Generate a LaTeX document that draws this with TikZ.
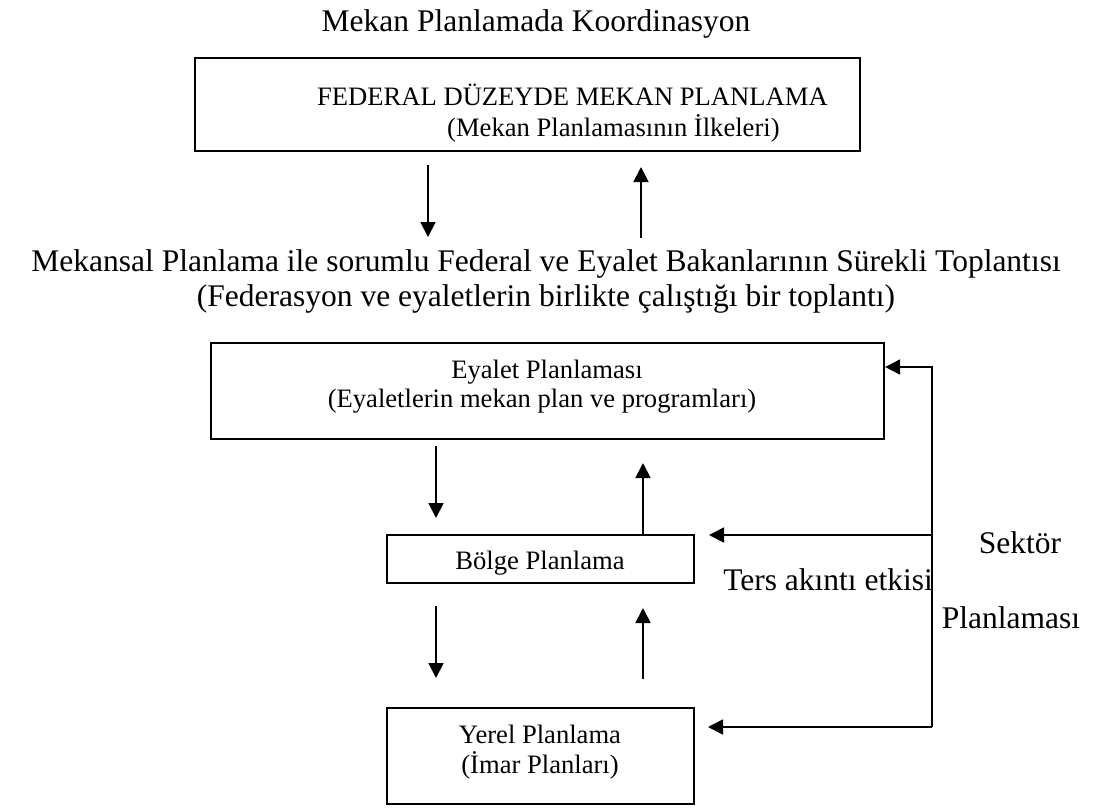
\documentclass[tikz,border=0pt]{standalone}
\usepackage{fontspec}
\setmainfont{Liberation Serif}
\usetikzlibrary{arrows.meta}
\begin{document}
\begin{tikzpicture}[x=1pt,y=-1pt,
  box/.style={draw, line width=2.2pt, inner sep=0pt},
  arr/.style={line width=1.8pt, -{Triangle[length=15pt,width=15pt]}},
  big/.style={font=\fontsize{31.5}{37}\selectfont, inner sep=0pt},
  small/.style={font=\fontsize{26.6}{31}\selectfont, inner sep=0pt}]
\useasboundingbox[fill=white] (0,0) rectangle (1093,807);

% title
\node[big, anchor=base] (title) at (536,31) {Mekan Planlamada Koordinasyon};

% federal box
\node[box, minimum width=665pt, minimum height=93pt] (fed) at (527.5,104.5) {};
\node[small, anchor=base west] (fed1) at (317,105) {FEDERAL DÜZEYDE MEKAN PLANLAMA};
\node[small, anchor=base west] (fed2) at (447,136) {(Mekan Planlamasının İlkeleri)};

% arrows between federal box and conference text
\coordinate (d1a) at (428,165);
\coordinate (d1b) at (428,237);
\coordinate (u1a) at (641,238);
\coordinate (u1b) at (641,167);
\draw[arr] (d1a) -- (d1b);
\draw[arr] (u1a) -- (u1b);

% conference text
\node[big, anchor=base] (conf1) at (546,271) {Mekansal Planlama ile sorumlu Federal ve Eyalet Bakanlarının Sürekli Toplantısı};
\node[big, anchor=base] (conf2) at (546,306) {(Federasyon ve eyaletlerin birlikte çalıştığı bir toplantı)};

% eyalet box
\node[box, minimum width=673pt, minimum height=96pt] (eya) at (547.5,391) {};
\node[small, anchor=base] (eya1) at (547,378) {Eyalet Planlaması};
\node[small, anchor=base] (eya2) at (542,407) {(Eyaletlerin mekan plan ve programları)};

% bolge box
\node[box, minimum width=307pt, minimum height=48pt] (bol) at (540.5,559) {};
\node[small, anchor=base] (bol1) at (540,569) {Bölge Planlama};

% yerel box
\node[box, minimum width=307pt, minimum height=96pt] (yer) at (540.5,756) {};
\node[small, anchor=base] (yer1) at (540,743) {Yerel Planlama};
\node[small, anchor=base] (yer2) at (540,773) {(İmar Planları)};

% arrows eyalet <-> bolge
\coordinate (d2a) at (436,446);
\coordinate (d2b) at (436,518);
\coordinate (u2b) at (643,463);
\draw[arr] (d2a) -- (d2b);
\draw[arr] (bol.north -| u2b) -- (u2b);

% arrows bolge <-> yerel
\coordinate (d3a) at (436,606);
\coordinate (d3b) at (436,678);
\coordinate (u3a) at (643,679);
\coordinate (u3b) at (643,608);
\draw[arr] (d3a) -- (d3b);
\draw[arr] (u3a) -- (u3b);

% sector feedback
\coordinate (rb) at (932,727);
\coordinate (rt) at (932,367);
\coordinate (mt) at (709,535);
\coordinate (bt) at (708,727);
\draw[arr] (rb) -- (rt) -- (rt -| eya.east);
\draw[arr] (rt |- mt) -- (mt);
\draw[arr] (rb) -- (bt);

\node[big, anchor=base] (sek) at (1020,553) {Sektör};
\node[big, anchor=base] (pla) at (1011,628) {Planlaması};
\node[big, anchor=base east] (ters) at (933,590) {Ters akıntı etkisi};
\end{tikzpicture}
\end{document}
